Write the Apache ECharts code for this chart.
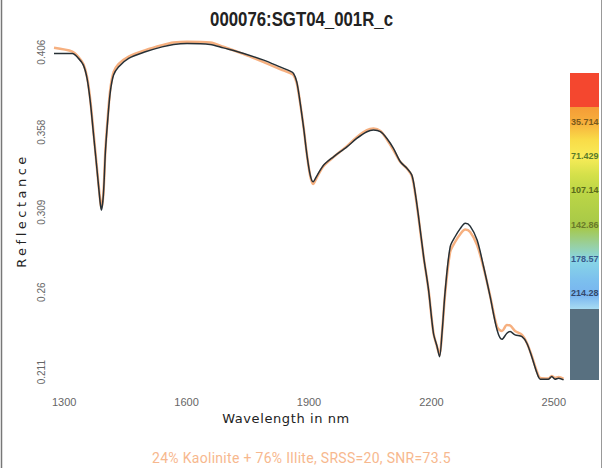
<!DOCTYPE html>
<html>
<head>
<meta charset="utf-8">
<script src="https://cdn.jsdelivr.net/npm/echarts@6/dist/echarts.min.js"></script>
<style>
  html, body { margin: 0; padding: 0; background: #fff; }
  #chart { width: 603px; height: 468px; }
</style>
</head>
<body>
<div id="chart"></div>
<script>
// spectrum samples
var wavelengths = [1275, 1320, 1335, 1347, 1356, 1364, 1372, 1380, 1388, 1391, 1396, 1401, 1407, 1413, 1421, 1433, 1458, 1499, 1540, 1568,
    1601, 1658, 1690, 1740, 1789, 1829, 1854, 1862, 1870, 1878, 1887, 1895, 1903, 1910, 1919, 1936, 1960, 1993, 2017, 2042,
    2058, 2075, 2091, 2107, 2124, 2140, 2152, 2160, 2168, 2181, 2193, 2205, 2214, 2220, 2226, 2234, 2246, 2258, 2271, 2283,
    2295, 2312, 2328, 2344, 2361, 2373, 2385, 2393, 2405, 2422, 2434, 2446, 2459, 2467, 2487, 2495, 2503, 2512, 2524]
var measured = [0.4052, 0.4052, 0.4022, 0.3981, 0.3900, 0.3757, 0.3555, 0.3354, 0.3148, 0.3098, 0.3189, 0.3453, 0.3656, 0.3818, 0.3920, 0.3970, 0.4022, 0.4062, 0.4092, 0.4107,
    0.4113, 0.4107, 0.4086, 0.4052, 0.4011, 0.3970, 0.3944, 0.3930, 0.3879, 0.3757, 0.3595, 0.3433, 0.3311, 0.3270, 0.3305, 0.3372, 0.3422, 0.3483, 0.3534, 0.3575,
    0.3585, 0.3575, 0.3534, 0.3474, 0.3392, 0.3352, 0.3311, 0.3209, 0.3067, 0.2813, 0.2611, 0.2347, 0.2265, 0.2204, 0.2347, 0.2611, 0.2874, 0.2935, 0.2986, 0.3017,
    0.3000, 0.2915, 0.2752, 0.2570, 0.2367, 0.2310, 0.2347, 0.2357, 0.2337, 0.2326, 0.2286, 0.2204, 0.2103, 0.2067, 0.2067, 0.2083, 0.2067, 0.2073, 0.2063]
var fitted = [0.4086, 0.4063, 0.4030, 0.3987, 0.3908, 0.3768, 0.3567, 0.3360, 0.3159, 0.3110, 0.3195, 0.3463, 0.3670, 0.3835, 0.3938, 0.3987, 0.4033, 0.4072, 0.4102, 0.4118,
    0.4124, 0.4118, 0.4093, 0.4048, 0.3999, 0.3957, 0.3932, 0.3920, 0.3871, 0.3755, 0.3597, 0.3433, 0.3305, 0.3256, 0.3296, 0.3366, 0.3420, 0.3487, 0.3542, 0.3585,
    0.3594, 0.3579, 0.3527, 0.3463, 0.3390, 0.3351, 0.3305, 0.3202, 0.3061, 0.2811, 0.2611, 0.2349, 0.2263, 0.2215, 0.2349, 0.2598, 0.2842, 0.2903, 0.2952, 0.2979,
    0.2964, 0.2885, 0.2745, 0.2574, 0.2385, 0.2361, 0.2397, 0.2394, 0.2361, 0.2337, 0.2288, 0.2209, 0.2111, 0.2075, 0.2072, 0.2087, 0.2075, 0.2081, 0.2069]

var xTicks = [1300, 1600, 1900, 2200, 2500]
var yTicks = [0.211, 0.25975, 0.3085, 0.35725, 0.406]
var yTickLabels = ['0.211', '0.26', '0.309', '0.358', '0.406']

// colour bar on the right
var colorbarBreaks = [-15.5, 20, 231, 305]
var colorbarTicks = [35.714, 71.429, 107.14, 142.86, 178.57, 214.28]
var colorbarLabels = ['35.714', '71.429', '107.14', '142.86', '178.57', '214.28']

var titleText = '000076:SGT04_001R_c'
var fitText = '24% Kaolinite + 76% Illite, SRSS=20, SNR=73.5'

var narrow = "'Liberation Sans Narrow', 'Arial Narrow', 'Liberation Sans', sans-serif"

var measuredData = wavelengths.map(function (w, i) { return [w, measured[i]] })
var fittedData = wavelengths.map(function (w, i) { return [w, fitted[i]] })

var colorbarData = []
for (var i = 0; i < colorbarBreaks.length - 1; i++) {
    colorbarData.push([colorbarBreaks[i], colorbarBreaks[i + 1], i])
}

var colorbarFills = [
    '#f4472f',
    new echarts.graphic.LinearGradient(0, 0, 0, 1, [
        {offset: 0, color: '#f59c36'},
        {offset: 0.074, color: '#f7ae3c'},
        {offset: 0.163, color: '#f9dc48'},
        {offset: 0.248, color: '#f8ec58'},
        {offset: 0.337, color: '#d4e04a'},
        {offset: 0.42, color: '#bcd646'},
        {offset: 0.594, color: '#a6c848'},
        {offset: 0.683, color: '#98d0a0'},
        {offset: 0.757, color: '#88d6e6'},
        {offset: 0.856, color: '#7cc0ee'},
        {offset: 0.93, color: '#78b4f0'},
        {offset: 1, color: '#a8dcf2'}
    ]),
    '#587080'
]
var colorbarLabelColors = ['#7a5a1a', '#5a7a2a', '#5a6a1a', '#6a7a2a', '#3a5a8a', '#34486a']

function nearestIndex(list, v) {
    var best = 0
    for (var i = 1; i < list.length; i++) {
        if (Math.abs(list[i] - v) < Math.abs(list[best] - v)) best = i
    }
    return best
}

var chart = echarts.init(document.getElementById('chart'), null, {renderer: 'svg'})

var option = {
    animation: false,
    backgroundColor: '#fff',
    title: [
        {
            text: fitText,
            left: 'center',
            top: 446,
            textStyle: {fontFamily: 'Roboto', fontSize: 14, fontWeight: 'normal', color: '#f7b88e'}
        }
    ],
    grid: [
        {left: 54, right: 39, top: 39, bottom: 86},
        {left: 570, right: 4, top: 73, bottom: 88}
    ],
    xAxis: [
        {
            type: 'value',
            min: 1275,
            max: 2525,
            name: 'Wavelength in nm',
            nameLocation: 'middle',
            nameGap: 30,
            nameTextStyle: {fontFamily: 'DejaVu Sans', fontSize: 13, color: '#222', padding: [0, 46, 0, 0]},
            axisLine: {show: false},
            axisTick: {show: false},
            splitLine: {show: false},
            axisLabel: {
                customValues: xTicks,
                margin: 14,
                fontFamily: narrow,
                fontSize: 11,
                color: '#666',
                formatter: function (v) { return String(Math.round(v)) }
            }
        },
        {
            gridIndex: 1,
            type: 'value',
            min: 0,
            max: 1,
            show: false
        }
    ],
    yAxis: [
        {
            type: 'value',
            min: 0.205,
            max: 0.414,
            name: 'Reflectance',
            nameLocation: 'middle',
            nameGap: 24,
            nameRotate: 90,
            nameTextStyle: {fontFamily: 'DejaVu Sans', fontSize: 13, color: '#222'},
            axisLine: {show: false},
            axisTick: {show: false},
            splitLine: {show: false},
            axisLabel: {
                customValues: yTicks,
                rotate: 90,
                margin: 8,
                fontFamily: narrow,
                fontSize: 10,
                color: '#666',
                formatter: function (v) { return yTickLabels[nearestIndex(yTicks, v)] }
            }
        },
        {
            gridIndex: 1,
            type: 'value',
            inverse: true,
            min: colorbarBreaks[0],
            max: colorbarBreaks[colorbarBreaks.length - 1],
            axisLine: {show: false},
            axisTick: {show: false},
            splitLine: {show: false},
            axisLabel: {
                inside: true,
                customValues: colorbarTicks,
                margin: 1,
                fontFamily: narrow,
                fontSize: 9,
                fontWeight: 'bold',
                color: function (v) { return colorbarLabelColors[nearestIndex(colorbarTicks, v)] },
                formatter: function (v) { return colorbarLabels[nearestIndex(colorbarTicks, v)] }
            },
            z: 5
        }
    ],
    graphic: [
        {type: 'line', shape: {x1: 1.5, y1: 0, x2: 1.5, y2: 468}, style: {stroke: '#777', lineWidth: 1.5}},
        {type: 'line', shape: {x1: 601.5, y1: 0, x2: 601.5, y2: 468}, style: {stroke: '#999', lineWidth: 1}},
        {
            // condensed bold title
            type: 'text',
            x: 301.5,
            y: 19,
            scaleX: 0.8,
            style: {
                text: titleText,
                align: 'center',
                verticalAlign: 'middle',
                fontFamily: 'Liberation Sans',
                fontSize: 21,
                fontWeight: 'bold',
                fill: '#222'
            }
        }
    ],
    series: [
        {
            name: 'fit',
            type: 'line',
            data: fittedData,
            smooth: 0.3,
            symbol: 'none',
            lineStyle: {color: '#f6b080', width: 2.5},
            z: 2
        },
        {
            name: 'measured',
            type: 'line',
            data: measuredData,
            smooth: 0.3,
            symbol: 'none',
            lineStyle: {color: '#263036', width: 1.5},
            z: 3
        },
        {
            name: 'colorbar',
            type: 'custom',
            xAxisIndex: 1,
            yAxisIndex: 1,
            data: colorbarData,
            encode: {x: -1, y: [0, 1]},
            renderItem: function (params, api) {
                var p0 = api.coord([0, api.value(0)])
                var p1 = api.coord([1, api.value(1)])
                return {
                    type: 'rect',
                    shape: {x: p0[0], y: p0[1], width: p1[0] - p0[0], height: p1[1] - p0[1]},
                    style: {fill: colorbarFills[api.value(2)]}
                }
            },
            z: 1
        }
    ]
}

chart.setOption(option)

// spaced-out text, as in the original plot
function spaceTexts() {
    var texts = document.querySelectorAll('#chart svg text')
    texts.forEach(function (t) {
        if (t.textContent === 'Reflectance') t.setAttribute('letter-spacing', '3.5px')
        if (t.textContent === 'Wavelength in nm') t.setAttribute('letter-spacing', '0.6px')
        if (t.textContent === fitText) t.setAttribute('letter-spacing', '0.3px')
    })
}
chart.on('finished', spaceTexts)
spaceTexts()
</script>
</body>
</html>
